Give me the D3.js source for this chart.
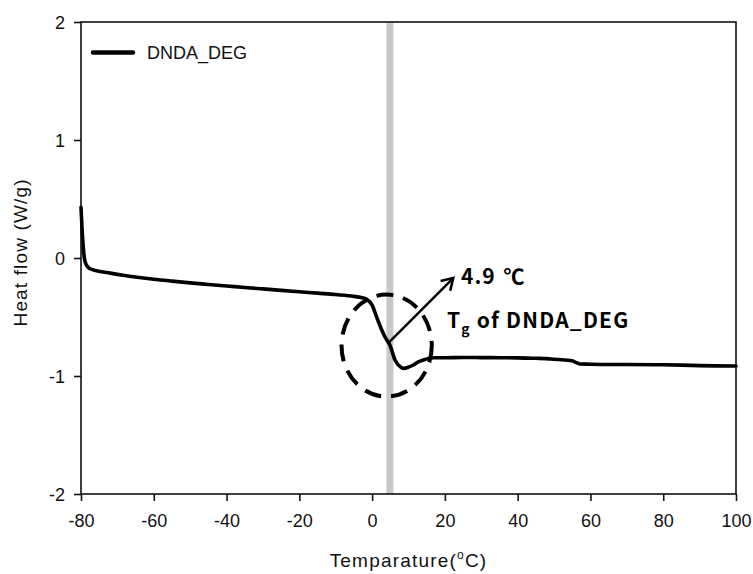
<!DOCTYPE html>
<html>
<head>
<meta charset="utf-8">
<script src="https://cdn.jsdelivr.net/npm/d3@7"></script>
<style>
  html, body { margin: 0; padding: 0; background: #fff; }
  svg { display: block; }
  .tick text { font-family: "Liberation Sans", Arial, sans-serif; font-size: 18px; fill: #111; }
</style>
</head>
<body>
<svg id="chart" width="753" height="574"></svg>
<script>
// DSC trace of DNDA_DEG: temperature (°C) vs heat flow (W/g)
const temperature = [-80, -79.7, -79.4, -78.9, -78, -77, -76, -72, -68, -64, -60, -55, -50, -45, -40, -35, -30, -25, -20, -15, -10, -5, -3, -1.5, 0, 1.2, 2.5, 3.5, 4.9, 6.3, 7.7, 8.6, 10, 11.3, 12.7, 14.1, 15.5, 16.8, 20, 25, 30, 35, 40, 45, 48, 50, 53, 55, 56, 57.1, 60, 70, 80, 85, 90, 100];
const heatFlow = [0.43, 0.24, 0.10, -0.03, -0.08, -0.097, -0.105, -0.128, -0.148, -0.165, -0.18, -0.196, -0.211, -0.224, -0.237, -0.25, -0.262, -0.274, -0.286, -0.298, -0.31, -0.325, -0.335, -0.35, -0.40, -0.497, -0.60, -0.667, -0.74, -0.864, -0.92, -0.935, -0.925, -0.907, -0.88, -0.864, -0.852, -0.845, -0.845, -0.843, -0.844, -0.845, -0.846, -0.85, -0.853, -0.858, -0.865, -0.870, -0.885, -0.898, -0.90, -0.903, -0.905, -0.908, -0.912, -0.915];

const xTicks = [-80, -60, -40, -20, 0, 20, 40, 60, 80, 100];
const yTicks = [-2, -1, 0, 1, 2];
const seriesName = "DNDA_DEG";

// glass transition marker
const tgValue = 4.9;
const tgFlow = -0.74;
const arrowTip = [22.3, -0.17];
const circleCenter = [4.0, -0.742];
const circleRadius = [12.4, 0.432]; // in data units (°C, W/g)

const svg = d3.select("#chart");
const margin = { left: 81, right: 17, top: 22, bottom: 80 };
const W = 753, H = 574;

const x = d3.scaleLinear().domain([-80, 100]).range([margin.left, W - margin.right]);
const y = d3.scaleLinear().domain([-2, 2]).range([H - margin.bottom, margin.top]);

// Tg band
svg.append("rect")
  .attr("x", x(tgValue) - 3.5)
  .attr("width", 7)
  .attr("y", y(2))
  .attr("height", y(-2) - y(2))
  .attr("fill", "#c8c8c8");

// axes (plain hyphen for negatives)
const fmt = d => String(d);
const xAxis = svg.append("g")
  .attr("transform", `translate(0,${y(-2)})`)
  .call(d3.axisBottom(x).tickValues(xTicks).tickSize(7).tickPadding(8).tickFormat(fmt));
const yAxis = svg.append("g")
  .attr("transform", `translate(${x(-80)},0)`)
  .call(d3.axisLeft(y).tickValues(yTicks).tickSize(7).tickPadding(9).tickFormat(fmt));
[xAxis, yAxis].forEach(g => {
  g.select(".domain").remove();
  g.selectAll(".tick line").attr("stroke", "#111").attr("stroke-width", 1.6);
});
xAxis.selectAll(".tick text").attr("dy", "1.0em");
yAxis.selectAll(".tick text").attr("dy", "0.36em");

// plot frame
svg.append("rect")
  .attr("x", x(-80)).attr("y", y(2))
  .attr("width", x(100) - x(-80)).attr("height", y(-2) - y(2))
  .attr("fill", "none").attr("stroke", "#111").attr("stroke-width", 1.6);

// curve
const pts = temperature.map((t, i) => [t, heatFlow[i]]);
svg.append("path")
  .datum(pts)
  .attr("fill", "none")
  .attr("stroke", "#000")
  .attr("stroke-width", 3.6)
  .attr("stroke-linejoin", "round")
  .attr("stroke-linecap", "round")
  .attr("d", d3.line().x(d => x(d[0])).y(d => y(d[1])).curve(d3.curveMonotoneX));

// dashed ellipse around the transition
svg.append("ellipse")
  .attr("cx", x(circleCenter[0]))
  .attr("cy", y(circleCenter[1]))
  .attr("rx", x(circleCenter[0] + circleRadius[0]) - x(circleCenter[0]))
  .attr("ry", y(circleCenter[1] - circleRadius[1]) - y(circleCenter[1]))
  .attr("fill", "none")
  .attr("stroke", "#000")
  .attr("stroke-width", 4)
  .attr("stroke-dasharray", "17 10");

// arrow from the Tg point
const ax0 = x(tgValue) - 1, ay0 = y(tgFlow) - 3;
const ax1 = x(arrowTip[0]), ay1 = y(arrowTip[1]);
svg.append("line")
  .attr("x1", ax0).attr("y1", ay0).attr("x2", ax1).attr("y2", ay1)
  .attr("stroke", "#000").attr("stroke-width", 2.4);
const ang = Math.atan2(ay1 - ay0, ax1 - ax0);
const headLen = 13, spread = 0.55;
svg.append("path")
  .attr("d", `M${ax1 - headLen * Math.cos(ang - spread)},${ay1 - headLen * Math.sin(ang - spread)}L${ax1},${ay1}L${ax1 - headLen * Math.cos(ang + spread)},${ay1 - headLen * Math.sin(ang + spread)}`)
  .attr("fill", "none").attr("stroke", "#000").attr("stroke-width", 2.6)
  .attr("stroke-linejoin", "miter");

// annotation text
const annFont = "'Noto Sans CJK KR', 'Noto Sans', sans-serif";
const t1 = svg.append("text")
  .attr("x", 461).attr("y", 284)
  .attr("font-family", annFont).attr("font-weight", 700).attr("font-size", 21)
  .attr("letter-spacing", 1);
t1.append("tspan").text(`${tgValue}`);
t1.append("tspan").attr("dx", 8).text("℃");
const tg = svg.append("text")
  .attr("x", 447).attr("y", 328)
  .attr("font-family", annFont).attr("font-weight", 700).attr("font-size", 21)
  .attr("letter-spacing", 1.2);
tg.append("tspan").text("T");
tg.append("tspan").attr("font-size", 14).attr("dy", 6).text("g");
tg.append("tspan").attr("dy", -6).text(` of ${seriesName}`);

// legend
svg.append("line")
  .attr("x1", 93).attr("x2", 133).attr("y1", 52.5).attr("y2", 52.5)
  .attr("stroke", "#000").attr("stroke-width", 4.5).attr("stroke-linecap", "round");
svg.append("text")
  .attr("x", 147).attr("y", 58.5)
  .attr("font-family", "'Liberation Sans', Arial, sans-serif").attr("font-size", 18).attr("fill", "#111")
  .text(seriesName);

// axis titles
const xt = svg.append("text")
  .attr("x", (x(-80) + x(100)) / 2).attr("y", 567)
  .attr("text-anchor", "middle")
  .attr("font-family", "'Liberation Sans', Arial, sans-serif").attr("font-size", 19).attr("fill", "#111")
  .attr("letter-spacing", 1.2);
xt.append("tspan").text("Temparature(");
xt.append("tspan").attr("font-size", 12).attr("dy", -8).text("o");
xt.append("tspan").attr("dy", 8).text("C)");

svg.append("text")
  .attr("transform", `translate(27,${(y(2) + y(-2)) / 2 - 5}) rotate(-90)`)
  .attr("text-anchor", "middle")
  .attr("font-family", "'Liberation Sans', Arial, sans-serif").attr("font-size", 19).attr("fill", "#111")
  .attr("textLength", 147).attr("lengthAdjust", "spacing")
  .text("Heat flow (W/g)");
</script>
</body>
</html>
